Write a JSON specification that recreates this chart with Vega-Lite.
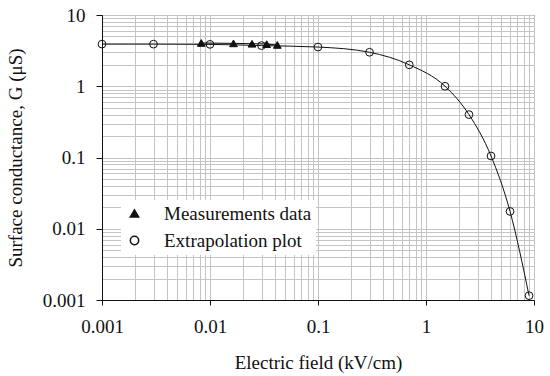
{
  "$schema": "https://vega.github.io/schema/vega-lite/v6.json",
  "width": 432,
  "height": 285,
  "autosize": "none",
  "padding": {"left": 102, "top": 15, "right": 16, "bottom": 76},
  "config": {
    "font": "Liberation Serif",
    "view": {"stroke": "#555", "strokeWidth": 1},
    "axis": {
      "labelFont": "Liberation Serif",
      "titleFont": "Liberation Serif",
      "labelFontSize": 19,
      "titleFontSize": 19,
      "labelColor": "#111",
      "titleColor": "#111",
      "titleFontWeight": "normal",
      "domainColor": "#111",
      "tickColor": "#111",
      "gridColor": "#c4c4c4",
      "gridOpacity": 1,
      "gridWidth": 1,
      "labelOverlap": false,
      "labelFlush": false
    }
  },
  "data": {
    "values": [
      {"series": "Extrapolation plot", "E": 0.001, "G": 3.9},
      {"series": "Extrapolation plot", "E": 0.003, "G": 3.9},
      {"series": "Extrapolation plot", "E": 0.01, "G": 3.87},
      {"series": "Extrapolation plot", "E": 0.03, "G": 3.72},
      {"series": "Extrapolation plot", "E": 0.1, "G": 3.55},
      {"series": "Extrapolation plot", "E": 0.3, "G": 3.0},
      {"series": "Extrapolation plot", "E": 0.7, "G": 2.0},
      {"series": "Extrapolation plot", "E": 1.5, "G": 1.0},
      {"series": "Extrapolation plot", "E": 2.5, "G": 0.4},
      {"series": "Extrapolation plot", "E": 4, "G": 0.105},
      {"series": "Extrapolation plot", "E": 6, "G": 0.0175},
      {"series": "Extrapolation plot", "E": 9, "G": 0.00115},
      {"series": "Measurements data", "E": 0.0083, "G": 4.05},
      {"series": "Measurements data", "E": 0.0165, "G": 4.0},
      {"series": "Measurements data", "E": 0.0245, "G": 3.95},
      {"series": "Measurements data", "E": 0.0335, "G": 3.9},
      {"series": "Measurements data", "E": 0.042, "G": 3.8}
    ]
  },
  "encoding": {
    "x": {
      "field": "E",
      "type": "quantitative",
      "scale": {"type": "log", "domain": [0.001, 10], "nice": false},
      "axis": {
        "title": "Electric field (kV/cm)",
        "values": [0.001,0.002,0.003,0.004,0.005,0.006,0.007,0.008,0.009,0.01,0.02,0.03,0.04,0.05,0.06,0.07,0.08,0.09,0.1,0.2,0.3,0.4,0.5,0.6,0.7,0.8,0.9,1,2,3,4,5,6,7,8,9,10],
        "grid": true,
        "labelExpr": "abs(log(datum.value)/LN10 - round(log(datum.value)/LN10)) < 1e-6 ? format(datum.value, '~g') : ''",
        "tickSize": 5,
        "tickOpacity": {"condition": {"test": "abs(log(datum.value)/LN10 - round(log(datum.value)/LN10)) < 1e-6", "value": 1}, "value": 0},
        "labelPadding": 12,
        "titlePadding": 17
      }
    },
    "y": {
      "field": "G",
      "type": "quantitative",
      "scale": {"type": "log", "domain": [0.001, 10], "nice": false},
      "axis": {
        "title": "Surface conductance, G (μS)",
        "values": [0.001,0.002,0.003,0.004,0.005,0.006,0.007,0.008,0.009,0.01,0.02,0.03,0.04,0.05,0.06,0.07,0.08,0.09,0.1,0.2,0.3,0.4,0.5,0.6,0.7,0.8,0.9,1,2,3,4,5,6,7,8,9,10],
        "grid": true,
        "labelExpr": "abs(log(datum.value)/LN10 - round(log(datum.value)/LN10)) < 1e-6 ? format(datum.value, '~g') : ''",
        "tickSize": 6,
        "tickOpacity": {"condition": {"test": "abs(log(datum.value)/LN10 - round(log(datum.value)/LN10)) < 1e-6", "value": 1}, "value": 0},
        "labelPadding": 11,
        "titlePadding": 17
      }
    }
  },
  "layer": [
    {
      "mark": {"type": "line", "interpolate": "monotone", "color": "#111", "strokeWidth": 1},
      "encoding": {"detail": {"field": "series", "type": "nominal"}}
    },
    {
      "mark": {"type": "point", "filled": true, "stroke": "#111", "strokeWidth": 1, "size": 60, "opacity": 1},
      "encoding": {
        "shape": {
          "field": "series",
          "type": "nominal",
          "scale": {"domain": ["Measurements data", "Extrapolation plot"], "range": ["triangle-up", "circle"]},
          "legend": {
            "title": null,
            "orient": "none",
            "legendX": 19,
            "legendY": 185,
            "fillColor": "white",
            "padding": 4,
            "rowPadding": 7,
            "labelFont": "Liberation Serif",
            "labelFontSize": 19,
            "labelColor": "#111",
            "labelOffset": 20,
            "symbolOffset": 0,
            "symbolSize": 70,
            "labelLimit": 300
          }
        },
        "fill": {
          "field": "series",
          "type": "nominal",
          "scale": {"domain": ["Measurements data", "Extrapolation plot"], "range": ["#111", "transparent"]},
          "legend": null
        }
      }
    }
  ]
}
